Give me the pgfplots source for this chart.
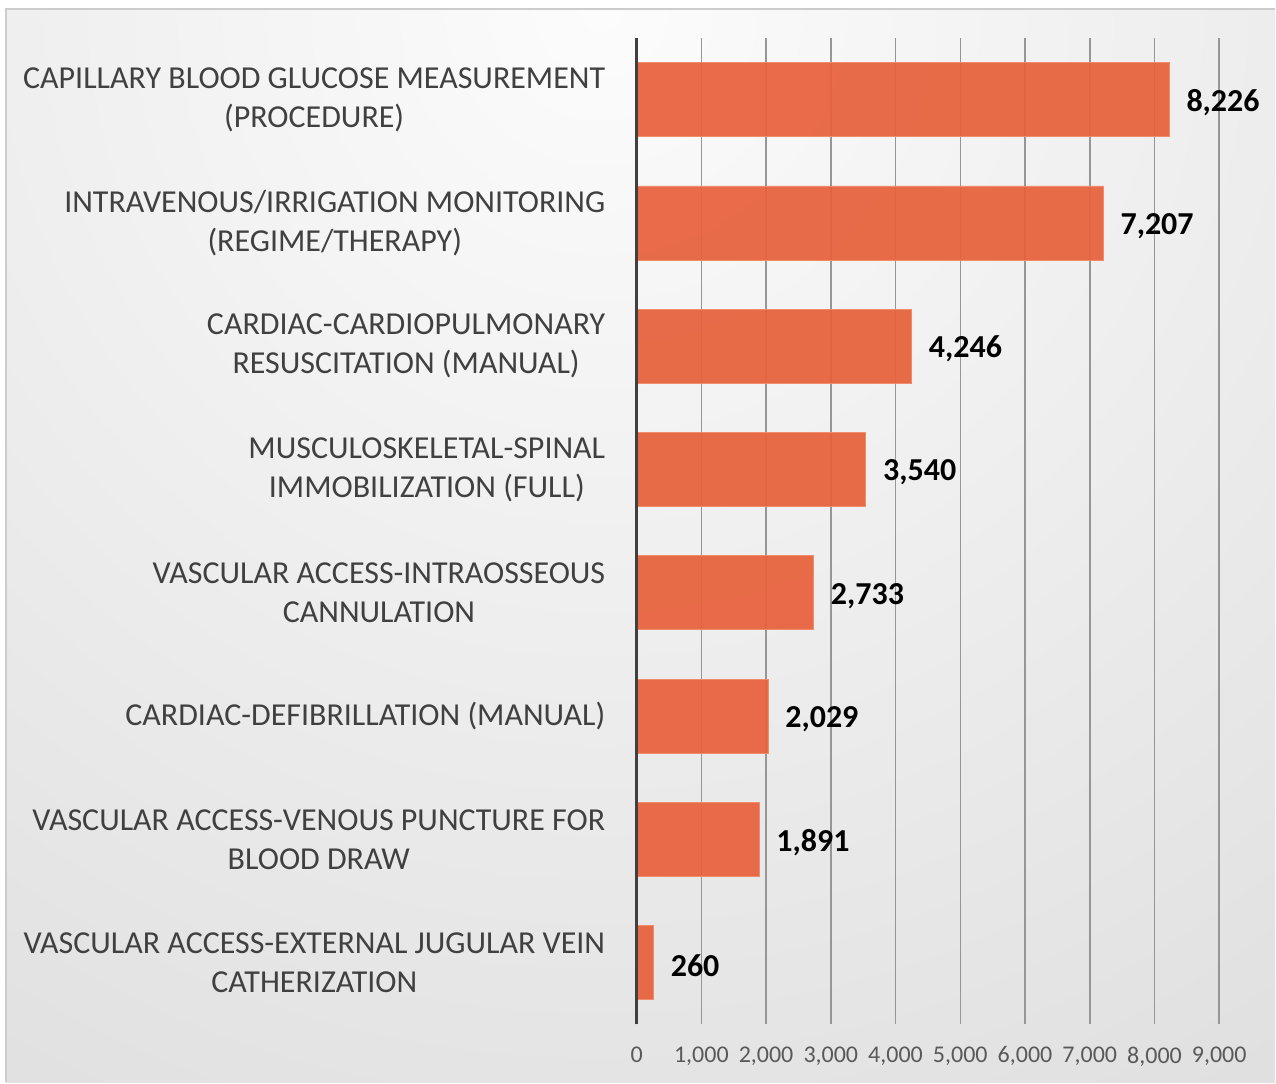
\documentclass[border=0pt]{standalone}
\usepackage{fontspec}
\setmainfont{Carlito}
\usepackage{pgfplots}
\pgfplotsset{compat=1.18}
\definecolor{barc}{RGB}{232,97,60}
\definecolor{baredge}{RGB}{240,140,110}
\definecolor{lblc}{RGB}{64,64,64}
\definecolor{tickc}{RGB}{89,89,89}
\definecolor{gridc}{RGB}{150,150,150}
\definecolor{bgout}{RGB}{196,196,196}
\definecolor{bgin}{RGB}{252,252,252}
\begin{document}
\begin{tikzpicture}
% page bounds
\path (-318.5pt,-29pt) rectangle (319.5pt,512.5pt);
% background
\begin{scope}
\clip (-315.5pt,-29pt) rectangle (319.5pt,508pt);
\shade[inner color=bgin, outer color=bgout] (-18pt,508pt) circle (1250pt);
\end{scope}
\draw[color=black!20, line width=0.8pt] (-315.5pt,-29pt) -- (-315.5pt,508pt) -- (319.5pt,508pt);
\begin{axis}[
  at={(0,0)}, anchor=south west,
  scale only axis,
  width=291.5pt, height=493.5pt,
  xbar, bar width=0.6,
  xmin=0, xmax=9000,
  ymin=-0.5, ymax=7.5,
  xtick={0,1000,...,9000},
  ytick={0,...,7},
  yticklabels={
    {VASCULAR ACCESS-EXTERNAL JUGULAR VEIN\\CATHERIZATION},
    {VASCULAR ACCESS-VENOUS PUNCTURE FOR\\BLOOD DRAW},
    {CARDIAC-DEFIBRILLATION (MANUAL)},
    {VASCULAR ACCESS-INTRAOSSEOUS\\CANNULATION},
    {MUSCULOSKELETAL-SPINAL\\IMMOBILIZATION (FULL)},
    {CARDIAC-CARDIOPULMONARY\\RESUSCITATION (MANUAL)},
    {INTRAVENOUS/IRRIGATION MONITORING\\(REGIME/THERAPY)},
    {CAPILLARY BLOOD GLUCOSE MEASUREMENT\\(PROCEDURE)}},
  axis line style={draw=none},
  major tick length=0pt,
  xmajorgrids,
  grid style={gridc, line width=0.75pt},
  /pgf/number format/assume math mode=true,
  /pgf/number format/1000 sep={,},
  scaled x ticks=false,
  xticklabel style={font=\fontsize{12}{14}\selectfont, text=tickc, inner sep=0pt, yshift=-11pt},
  yticklabel style={font=\fontsize{16}{19.5}\selectfont, text=lblc, align=center, inner sep=0pt, anchor=east, xshift=-15.5pt},
  nodes near coords,
  nodes near coords style={font=\bfseries\fontsize{16}{18}\selectfont, text=black, anchor=west, inner sep=0pt, xshift=8.5pt, yshift=-1.5pt},
  point meta=x,
  clip=false,
]
\addplot[fill=barc, fill opacity=0.93, text opacity=1, draw=baredge, line width=0.4pt] coordinates {
  (260,0) (1891,1) (2029,2) (2733,3) (3540,4) (4246,5) (7207,6) (8226,7)
};
\draw[color=black!75, line width=1.5pt] (axis cs:0,-0.5) -- (axis cs:0,7.5);
\end{axis}
\end{tikzpicture}
\end{document}
